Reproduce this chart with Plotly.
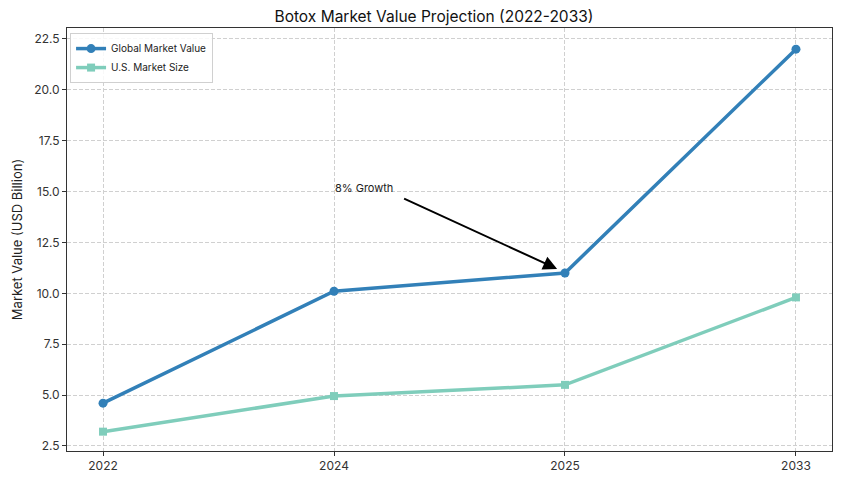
import plotly.graph_objects as go

years = ["2022", "2024", "2025", "2033"]
global_value = [4.6, 10.1, 11.0, 22.0]
us_size = [3.2, 4.95, 5.5, 9.8]
y_ticks = [2.5, 5.0, 7.5, 10.0, 12.5, 15.0, 17.5, 20.0, 22.5]

FONT = "Inter"

fig = go.Figure()
fig.add_trace(go.Scatter(
    x=years, y=global_value, name="Global Market Value", mode="lines+markers",
    line=dict(color="#3280b8", width=3.5),
    marker=dict(symbol="circle", size=9, color="#3280b8"),
))
fig.add_trace(go.Scatter(
    x=years, y=us_size, name="U.S. Market Size", mode="lines+markers",
    line=dict(color="#7fcdbb", width=3.5),
    marker=dict(symbol="square", size=8, color="#7fcdbb"),
))

# arrow (tip near 2025 point, tail below the label)
fig.add_annotation(
    x=1.966, y=11.2, xref="x", yref="y",
    ax=1.297, ay=14.69, axref="x", ayref="y",
    text="", showarrow=True, arrowhead=2, arrowsize=1.4, arrowwidth=2,
    arrowcolor="black",
)
fig.add_annotation(
    x=0.995, y=15.2, xref="x", yref="y", text="8% Growth", showarrow=False,
    xanchor="left", yanchor="middle", font=dict(family=FONT, size=11, color="#222"),
)

fig.update_layout(
    width=868, height=477,
    margin=dict(l=67, r=36, t=28, b=26),
    paper_bgcolor="white", plot_bgcolor="white",
    font=dict(family=FONT, size=12, color="#222"),
    title=dict(text="Botox Market Value Projection (2022-2033)", x=0.5, xanchor="center",
               y=0.965, yanchor="middle", font=dict(family=FONT, size=15.5, color="#111")),
    legend=dict(x=0.004, y=0.988, xanchor="left", yanchor="top",
                bgcolor="rgba(255,255,255,0.85)", bordercolor="#d0d0d0", borderwidth=1,
                font=dict(family=FONT, size=10, color="#222"), tracegroupgap=0,
                itemwidth=30),
    showlegend=True,
)
fig.update_xaxes(
    type="category", range=[-0.156, 3.156], automargin=False,
    showline=True, linecolor="#333", linewidth=1, mirror=True,
    showgrid=True, gridcolor="#d0d0d0", griddash="4px,2px", gridwidth=1,
    ticks="outside", ticklen=4, tickcolor="#333",
    tickfont=dict(family=FONT, size=12, color="#333"),
)
fig.update_yaxes(
    range=[2.25, 23.04], tickvals=y_ticks, ticktext=[f"{v:.1f}" for v in y_ticks],
    automargin=False,
    showline=True, linecolor="#333", linewidth=1, mirror=True,
    showgrid=True, gridcolor="#d0d0d0", griddash="4px,2px", gridwidth=1,
    zeroline=False,
    ticks="outside", ticklen=4, tickcolor="#333",
    tickfont=dict(family=FONT, size=12, color="#333"),
    title=dict(text="Market Value (USD Billion)", font=dict(family=FONT, size=13, color="#222"),
               standoff=8),
)

fig.write_html("out.html", config={"displayModeBar": False},
               post_script="document.body.style.margin='0';")
